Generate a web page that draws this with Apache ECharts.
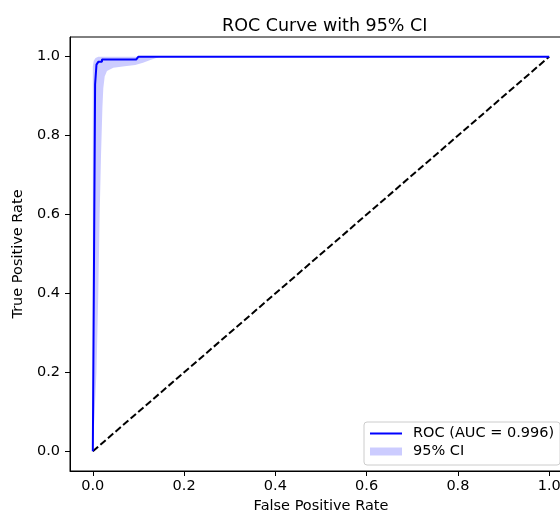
<!DOCTYPE html>
<html>
<head>
<meta charset="utf-8">
<script src="https://cdn.jsdelivr.net/npm/echarts@6/dist/echarts.min.js"></script>
<style>html,body{margin:0;padding:0;background:#fff}#c{width:560px;height:514px}</style>
</head>
<body>
<div id="c"></div>
<script>
// ROC curve
var rocFpr = [0, 0.005, 0.008, 0.008, 0.012, 0.012, 0.02, 0.02, 0.095, 0.1, 1.0];
var rocTpr = [0, 0.93, 0.93, 0.98, 0.98, 0.987, 0.987, 0.993, 0.993, 1.0, 1.0];
// 95% CI upper bound
var upperFpr = [0, 0, 0.002, 0.006, 0.012, 1.0];
var upperTpr = [0, 0.975, 0.99, 0.997, 1.0, 1.0];
// 95% CI lower bound
var lowerFpr = [0, 0.008, 0.012, 0.015, 0.018, 0.021, 0.023, 0.026, 0.031, 0.045, 0.07, 0.093, 0.11, 0.126, 0.147, 1.0];
var lowerTpr = [0, 0.2, 0.4, 0.6, 0.75, 0.87, 0.92, 0.95, 0.964, 0.972, 0.976, 0.979, 0.985, 0.992, 1.0, 1.0];
// chance line
var chanceFpr = [0, 1];
var chanceTpr = [0, 1];
var tickValues = [0, 0.2, 0.4, 0.6, 0.8, 1.0];
var rocName = 'ROC (AUC = 0.996)';
var ciName = '95% CI';

function zip(a, b) { return a.map(function (v, i) { return [v, b[i]]; }); }

var FONT = 'DejaVu Sans';
var chart = echarts.init(document.getElementById('c'), null, { renderer: 'canvas' });

function axisCommon(name) {
  return {
    type: 'value', min: -0.05, max: 1.05,
    name: name, nameLocation: 'middle',
    nameTextStyle: { fontFamily: FONT, fontSize: 14.5, color: '#000' },
    splitLine: { show: false },
    axisLine: { show: true, onZero: false, lineStyle: { color: '#000', width: 1 } },
    axisTick: { show: true, length: 5, customValues: tickValues, lineStyle: { color: '#000', width: 1 } },
    axisLabel: {
      customValues: tickValues, fontFamily: FONT, fontSize: 14.5, color: '#000',
      formatter: function (v) { return v.toFixed(1); }
    }
  };
}

var xAx = axisCommon('False Positive Rate');
xAx.nameGap = 25; xAx.axisLabel.margin = 8;
var yAx = axisCommon('True Positive Rate');
yAx.nameGap = 41; yAx.axisLabel.margin = 10;

var option = {
  backgroundColor: '#fff',
  animation: false,
  title: {
    text: 'ROC Curve with 95% CI', left: 217, top: 12,
    textStyle: { fontFamily: FONT, fontSize: 17.5, fontWeight: 'normal', color: '#000' }
  },
  grid: {
    left: 70, top: 37, width: 502, height: 434,
    containLabel: false, outerBoundsMode: 'none',
    show: true, borderColor: '#000', borderWidth: 1, backgroundColor: 'transparent'
  },
  xAxis: xAx,
  yAxis: yAx,
  legend: {
    orient: 'vertical', left: 364, top: 422,
    padding: [4, 6, 6, 6], itemGap: 3, itemWidth: 32, itemHeight: 8,
    backgroundColor: 'rgba(255,255,255,0.8)', borderColor: '#cccccc', borderWidth: 1, borderRadius: 3,
    textStyle: { fontFamily: FONT, fontSize: 14.5, color: '#000', padding: [0, 0, 0, 6] },
    data: [
      { name: rocName, icon: 'path://M0,0L0.01,0ZM0,3H32V5H0ZM32,8L31.99,8Z' },
      { name: ciName, icon: 'rect' }
    ]
  },
  series: [
    {
      type: 'custom', name: ciName, z: 1,
      itemStyle: { color: 'rgba(0,0,255,0.2)' },
      data: [[0, 0]],
      renderItem: function (params, api) {
        var pts = [];
        for (var i = 0; i < upperFpr.length; i++) pts.push(api.coord([upperFpr[i], upperTpr[i]]));
        for (var j = lowerFpr.length - 1; j >= 0; j--) pts.push(api.coord([lowerFpr[j], lowerTpr[j]]));
        return { type: 'polygon', shape: { points: pts }, style: { fill: 'rgba(0,0,255,0.2)' } };
      }
    },
    {
      type: 'line', name: rocName, z: 3, data: zip(rocFpr, rocTpr),
      showSymbol: false, symbol: 'none',
      lineStyle: { color: '#0000ff', width: 2 }, itemStyle: { color: '#0000ff' }
    },
    {
      type: 'line', name: 'chance', z: 2, data: zip(chanceFpr, chanceTpr),
      showSymbol: false, symbol: 'none',
      lineStyle: { color: '#000', width: 2, type: [7, 3] }
    }
  ]
};
chart.setOption(option);
</script>
</body>
</html>
